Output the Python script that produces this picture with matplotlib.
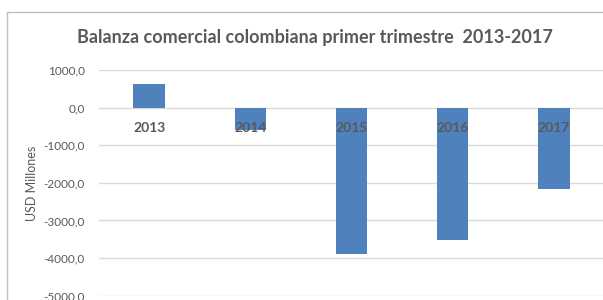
import matplotlib
matplotlib.use("Agg")
import matplotlib.pyplot as plt
from matplotlib.patches import Rectangle

years = ["2013", "2014", "2015", "2016", "2017"]
balance = [645.0, -590.0, -3900.0, -3530.0, -2170.0]
yticks = [1000, 0, -1000, -2000, -3000, -4000, -5000]
ytick_labels = ["1000,0", "0,0", "-1000,0", "-2000,0", "-3000,0", "-4000,0", "-5000,0"]

plt.rcParams['font.family'] = ['Lato', 'DejaVu Sans']
W, H = 603, 300
fig = plt.figure(figsize=(W / 100, H / 100), dpi=100)
fig.patch.set_facecolor("white")

# chart frame
fig.patches.append(Rectangle((7 / W, -0.1), 1.2, 0.1 + (1 - 12 / H), transform=fig.transFigure,
                             fill=False, edgecolor="#BFBFBF", linewidth=1.0))

left = 98.5 / W
right = 604.6 / W
bottom = (H - 295.5) / H
top = (H - 70.3) / H
ax = fig.add_axes([left, bottom, right - left, top - bottom])
ax.set_facecolor("none")

x = list(range(len(years)))
ax.bar(x, balance, width=0.31, color="#4F81BD", zorder=2)
ax.set_xlim(-0.5, len(years) - 0.5)
ax.set_ylim(-5000, 1000)
ax.set_yticks(yticks)
ax.set_yticklabels(ytick_labels)
ax.grid(axis="y", color="#D9D9D9", linewidth=1.0, zorder=0)
ax.set_axisbelow(True)
for s in ax.spines.values():
    s.set_visible(False)
ax.tick_params(axis="y", length=0, pad=10, labelsize=8.5, labelcolor="#595959")
ax.tick_params(axis="x", length=0, bottom=False, labelbottom=False)

for xi, yr in zip(x, years):
    ax.text(xi, -530, yr, ha="center", va="center", fontsize=10, fontweight="bold",
            color="#595959", zorder=3)

ax.set_ylabel("USD Millones", fontsize=9, color="#595959", labelpad=4)

fig.text(315 / W, 1 - 38 / H, "Balanza comercial colombiana primer trimestre  2013-2017",
         ha="center", va="center", fontsize=13, fontweight="bold", color="#595959")

fig.savefig("out.png", dpi=100)
